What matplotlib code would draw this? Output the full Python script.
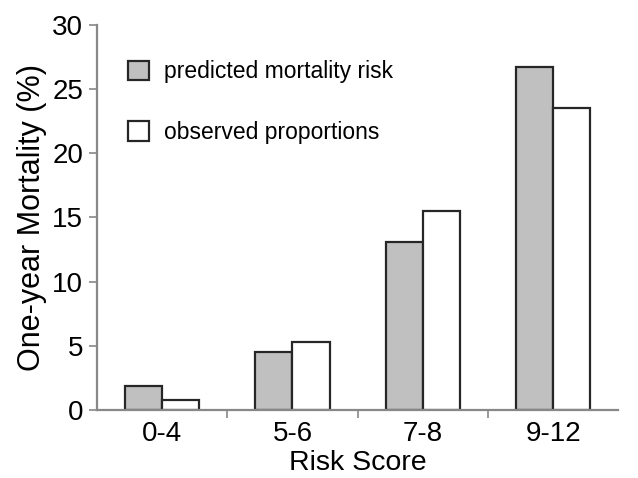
import matplotlib
matplotlib.use('Agg')
import matplotlib.pyplot as plt
import numpy as np

plt.rc('font', family=['Liberation Sans', 'DejaVu Sans'])

categories = ['0-4', '5-6', '7-8', '9-12']
predicted = [1.9, 4.5, 13.1, 26.7]
observed = [0.8, 5.3, 15.5, 23.5]

fig = plt.figure(figsize=(6.38, 4.78), dpi=100)
ax = fig.add_axes([0.152, 0.142, 0.817, 0.806])

x = np.arange(len(categories))
w = 0.285
ax.bar(x - w/2, predicted, w, color='#c0c0c0', edgecolor='#262626', linewidth=1.6,
       label='predicted mortality risk')
ax.bar(x + w/2, observed, w, color='white', edgecolor='#262626', linewidth=1.6,
       label='observed proportions')

ax.set_xlim(-0.5, 3.5)
ax.set_ylim(0, 30)
ax.set_yticks([0, 5, 10, 15, 20, 25, 30])
ax.set_xticks(x)
ax.set_xticklabels(categories)
ax.set_xticks([0.5, 1.5, 2.5], minor=True)
ax.tick_params(axis='x', which='major', length=0, labelsize=20, pad=8)
ax.tick_params(axis='x', which='minor', length=6, width=1.2, color='#888888', direction='out')
ax.tick_params(axis='y', length=6, width=1.2, color='#888888', labelsize=20, pad=4)

for s in ['top', 'right']:
    ax.spines[s].set_visible(False)
for s in ['left', 'bottom']:
    ax.spines[s].set_color('#888888')
    ax.spines[s].set_linewidth(1.6)

ax.set_xlabel('Risk Score', fontsize=20.5, labelpad=2)
ax.set_ylabel('One-year Mortality (%)', fontsize=22, labelpad=4)

leg = ax.legend(loc='upper left', bbox_to_anchor=(0.02, 0.962), frameon=False,
                fontsize=16.5, handlelength=0.92, handleheight=0.92,
                labelspacing=1.65, handletextpad=0.65)

fig.savefig('out.png', dpi=100)
